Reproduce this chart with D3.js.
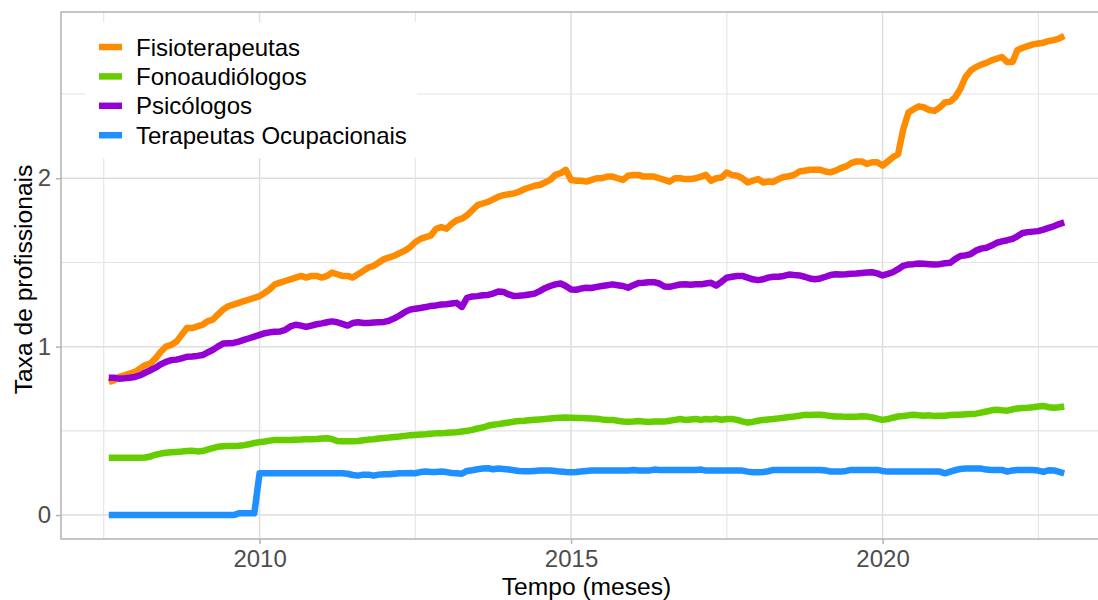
<!DOCTYPE html>
<html><head><meta charset="utf-8">
<script src="https://cdn.jsdelivr.net/npm/d3@7"></script>
<style>body{margin:0;background:#fff;} svg{display:block;font-family:"Liberation Sans",Arial,sans-serif;}</style>
</head><body><svg id="chart" width="1098" height="600"></svg>
<script>
// ---- data (monthly, Aug 2007 .. Dec 2022) ----
const startYear = 2007, startMonth = 8;
const seriesNames = ["Fisioterapeutas", "Fonoaudiólogos", "Psicólogos", "Terapeutas Ocupacionais"];
const seriesColors = ["#FF8C00", "#66CD00", "#9400D3", "#1E90FF"];
const fisioterapeutas = [
  0.79,0.80,0.82,0.83,0.84,
  0.85,0.87,0.89,0.90,0.93,0.97,1.00,1.01,1.03,1.07,1.11,1.11,
  1.12,1.13,1.15,1.16,1.19,1.22,1.24,1.25,1.26,1.27,1.28,1.29,
  1.30,1.32,1.34,1.37,1.38,1.39,1.40,1.41,1.42,1.41,1.42,1.42,
  1.41,1.42,1.44,1.43,1.42,1.42,1.41,1.43,1.45,1.47,1.48,1.50,
  1.52,1.53,1.54,1.555,1.57,1.59,1.62,1.64,1.65,1.66,1.70,1.71,
  1.70,1.73,1.75,1.76,1.78,1.81,1.84,1.85,1.86,1.875,1.89,1.90,
  1.905,1.91,1.92,1.935,1.945,1.955,1.96,1.975,1.99,2.02,2.03,2.05,
  1.99,1.985,1.985,1.98,1.99,2.00,2.00,2.01,2.01,2.00,1.99,2.015,
  2.02,2.02,2.01,2.01,2.01,2.00,1.99,1.98,2.00,2.00,1.995,1.995,
  2.00,2.01,2.02,1.985,2.00,2.004,2.034,2.02,2.015,2.00,1.975,1.985,
  1.995,1.975,1.98,1.978,1.995,2.008,2.012,2.02,2.04,2.045,2.05,2.05,
  2.05,2.04,2.035,2.045,2.06,2.07,2.09,2.10,2.10,2.085,2.095,2.095,
  2.075,2.10,2.125,2.143,2.29,2.39,2.41,2.427,2.42,2.405,2.40,2.42,
  2.45,2.455,2.48,2.53,2.60,2.64,2.66,2.675,2.685,2.70,2.71,2.72,
  2.69,2.69,2.76,2.775,2.785,2.795,2.80,2.805,2.815,2.82,2.83,2.845
];
const fonoaudiologos = [
  0.34,0.34,0.34,0.34,0.34,
  0.34,0.34,0.342,0.348,0.358,0.365,0.37,0.373,0.375,0.377,0.38,0.382,
  0.378,0.38,0.388,0.397,0.405,0.408,0.41,0.41,0.412,0.415,0.42,0.428,
  0.433,0.437,0.442,0.445,0.446,0.446,0.446,0.447,0.448,0.45,0.45,0.452,
  0.455,0.456,0.452,0.44,0.438,0.438,0.438,0.44,0.444,0.448,0.45,0.455,
  0.458,0.46,0.463,0.466,0.47,0.474,0.476,0.478,0.48,0.483,0.485,0.485,
  0.488,0.49,0.492,0.496,0.50,0.506,0.514,0.52,0.53,0.536,0.54,0.545,
  0.55,0.555,0.558,0.56,0.563,0.566,0.568,0.57,0.574,0.576,0.578,0.579,
  0.578,0.576,0.576,0.575,0.574,0.572,0.568,0.565,0.565,0.56,0.556,0.554,
  0.555,0.558,0.555,0.553,0.556,0.555,0.555,0.56,0.565,0.57,0.565,0.568,
  0.57,0.565,0.57,0.568,0.572,0.566,0.57,0.57,0.565,0.556,0.549,0.553,
  0.56,0.565,0.568,0.57,0.574,0.578,0.582,0.585,0.59,0.595,0.594,0.595,
  0.595,0.592,0.588,0.585,0.585,0.583,0.583,0.584,0.586,0.585,0.58,0.572,
  0.565,0.57,0.578,0.585,0.588,0.592,0.595,0.592,0.59,0.592,0.588,0.59,
  0.59,0.594,0.595,0.596,0.598,0.60,0.602,0.608,0.615,0.622,0.625,0.622,
  0.62,0.628,0.633,0.635,0.637,0.64,0.645,0.648,0.64,0.637,0.64,0.645
];
const psicologos = [
  0.815,0.815,0.81,0.812,0.815,
  0.82,0.83,0.845,0.86,0.875,0.895,0.91,0.92,0.923,0.93,0.94,0.942,
  0.945,0.95,0.965,0.98,1.00,1.018,1.02,1.022,1.03,1.04,1.05,1.06,
  1.07,1.08,1.085,1.088,1.09,1.10,1.12,1.13,1.125,1.117,1.125,1.133,
  1.138,1.145,1.15,1.145,1.135,1.125,1.14,1.145,1.14,1.141,1.143,1.145,
  1.147,1.155,1.168,1.185,1.205,1.22,1.225,1.23,1.235,1.242,1.245,1.25,
  1.252,1.256,1.26,1.236,1.29,1.298,1.30,1.305,1.307,1.315,1.328,1.325,
  1.31,1.30,1.302,1.305,1.31,1.315,1.33,1.347,1.36,1.37,1.375,1.36,
  1.34,1.338,1.345,1.35,1.348,1.355,1.36,1.365,1.37,1.365,1.36,1.35,
  1.365,1.378,1.38,1.383,1.383,1.375,1.357,1.355,1.362,1.369,1.37,1.368,
  1.37,1.37,1.375,1.379,1.363,1.385,1.409,1.415,1.419,1.42,1.41,1.40,
  1.395,1.40,1.41,1.415,1.415,1.42,1.428,1.425,1.423,1.415,1.405,1.40,
  1.405,1.415,1.425,1.43,1.428,1.43,1.433,1.435,1.438,1.44,1.442,1.435,
  1.423,1.432,1.442,1.46,1.48,1.488,1.49,1.494,1.492,1.49,1.488,1.49,
  1.495,1.498,1.52,1.538,1.542,1.55,1.57,1.582,1.587,1.60,1.617,1.625,
  1.632,1.64,1.655,1.675,1.68,1.683,1.686,1.695,1.705,1.715,1.728,1.738
];
const terapeutasOcupacionais = [
  0,0,0,0,0,
  0,0,0,0,0,0,0,0,0,0,0,0,
  0,0,0,0,0,0,0,0,0.01,0.01,0.01,0.01,
  0.248,0.248,0.248,0.248,0.248,0.248,0.248,0.248,0.248,0.248,0.248,0.248,
  0.248,0.248,0.248,0.248,0.248,0.245,0.238,0.234,0.24,0.24,0.234,0.24,
  0.242,0.242,0.245,0.248,0.248,0.25,0.248,0.255,0.258,0.255,0.256,0.258,
  0.255,0.25,0.248,0.245,0.262,0.266,0.272,0.276,0.278,0.272,0.276,0.274,
  0.27,0.266,0.262,0.26,0.26,0.262,0.264,0.264,0.264,0.262,0.258,0.255,
  0.254,0.255,0.258,0.262,0.264,0.264,0.264,0.264,0.264,0.264,0.264,0.264,
  0.268,0.264,0.264,0.264,0.27,0.268,0.268,0.268,0.268,0.268,0.268,0.268,
  0.268,0.27,0.264,0.264,0.264,0.264,0.264,0.264,0.264,0.264,0.258,0.254,
  0.254,0.256,0.26,0.268,0.268,0.268,0.268,0.268,0.268,0.268,0.268,0.268,
  0.268,0.265,0.258,0.258,0.258,0.262,0.268,0.268,0.268,0.268,0.268,0.268,
  0.262,0.258,0.258,0.258,0.258,0.258,0.258,0.258,0.258,0.258,0.258,0.258,
  0.248,0.258,0.266,0.274,0.276,0.276,0.276,0.276,0.27,0.268,0.268,0.268,
  0.258,0.265,0.268,0.268,0.268,0.268,0.264,0.256,0.266,0.265,0.256,0.248
];
const xMajorYears = [2010, 2015, 2020];
const xMinorYears = [2007.5, 2012.5, 2017.5, 2022.5];
const yMajorTicks = [0, 1, 2];
const yMinorTicks = [0.5, 1.5, 2.5];
const xTitle = "Tempo (meses)";
const yTitle = "Taxa de profissionais";

// ---- build ----
const seriesValues = [fisioterapeutas, fonoaudiologos, psicologos, terapeutasOcupacionais];
const months = fisioterapeutas.map((_, i) => new Date(startYear, startMonth - 1 + i, 1));
const yearToDate = y => { const yr = Math.floor(y); const frac = y - yr;
  const a = new Date(yr, 0, 1), b = new Date(yr + 1, 0, 1); return new Date(+a + frac * (b - a)); };

const svg = d3.select("#chart");
const P = {left: 61, right: 1112, top: 12, bottom: 539};

const [d0, d1] = d3.extent(months);
const span = d1 - d0;
const x = d3.scaleTime().domain([new Date(+d0 - 0.05 * span), new Date(+d1 + 0.05 * span)]).range([P.left, P.right]);
const yMax = d3.max(seriesValues.flat()), yMin = 0;
const yr = yMax - yMin;
const y = d3.scaleLinear().domain([yMin - 0.05 * yr, yMax + 0.05 * yr]).range([P.bottom, P.top]);

const grid = svg.append("g");
grid.selectAll(".vminor").data(xMinorYears).join("line")
  .attr("x1", d => x(yearToDate(d))).attr("x2", d => x(yearToDate(d)))
  .attr("y1", P.top).attr("y2", P.bottom).attr("stroke", "#E4E4E4").attr("stroke-width", 1.1);
grid.selectAll(".hminor").data(yMinorTicks).join("line")
  .attr("y1", d => y(d)).attr("y2", d => y(d))
  .attr("x1", P.left).attr("x2", P.right).attr("stroke", "#E4E4E4").attr("stroke-width", 1.1);
grid.selectAll(".vmajor").data(xMajorYears).join("line")
  .attr("x1", d => x(new Date(d, 0, 1))).attr("x2", d => x(new Date(d, 0, 1)))
  .attr("y1", P.top).attr("y2", P.bottom).attr("stroke", "#DEDEDE").attr("stroke-width", 1.5);
grid.selectAll(".hmajor").data(yMajorTicks).join("line")
  .attr("y1", d => y(d)).attr("y2", d => y(d))
  .attr("x1", P.left).attr("x2", P.right).attr("stroke", "#DEDEDE").attr("stroke-width", 1.5);

const line = d3.line().x((d, i) => x(months[i])).y(d => y(d));
svg.append("g").selectAll("path").data(seriesValues).join("path")
  .attr("d", line).attr("fill", "none")
  .attr("stroke", (d, i) => seriesColors[i]).attr("stroke-width", 6.5)
  .attr("stroke-linejoin", "round").attr("stroke-linecap", "butt");

// panel border
svg.append("rect").attr("x", P.left).attr("y", P.top)
  .attr("width", P.right - P.left).attr("height", P.bottom - P.top)
  .attr("fill", "none").attr("stroke", "#B3B3B3").attr("stroke-width", 1.5);

// axes
const xAxis = d3.axisBottom(x).tickValues(xMajorYears.map(d => new Date(d, 0, 1)))
  .tickFormat(d3.timeFormat("%Y")).tickSize(5).tickPadding(6);
const gx = svg.append("g").attr("transform", `translate(0,${P.bottom})`).call(xAxis);
gx.select(".domain").remove();
gx.selectAll("line").attr("stroke", "#B3B3B3").attr("stroke-width", 1.5);
gx.selectAll("text").attr("fill", "#4D4D4D").attr("font-size", 24).attr("font-family", "Liberation Sans, Arial, sans-serif");

const yAxis = d3.axisLeft(y).tickValues(yMajorTicks).tickFormat(d3.format("d")).tickSize(5).tickPadding(5);
const gy = svg.append("g").attr("transform", `translate(${P.left},0)`).call(yAxis);
gy.select(".domain").remove();
gy.selectAll("line").attr("stroke", "#B3B3B3").attr("stroke-width", 1.5);
gy.selectAll("text").attr("fill", "#4D4D4D").attr("font-size", 24).attr("font-family", "Liberation Sans, Arial, sans-serif");

svg.append("text").attr("x", (P.left + P.right) / 2).attr("y", 595)
  .attr("text-anchor", "middle").attr("font-size", 24.6).attr("fill", "#000").text(xTitle);
svg.append("text").attr("transform", `translate(32,${(P.top + P.bottom) / 2 + 4}) rotate(-90)`)
  .attr("text-anchor", "middle").attr("font-size", 24.6).attr("fill", "#000").text(yTitle);

// legend
const lg = svg.append("g");
lg.append("rect").attr("x", 86).attr("y", 22).attr("width", 331).attr("height", 136).attr("fill", "#fff");
const rows = lg.selectAll("g.row").data(seriesNames).join("g")
  .attr("transform", (d, i) => `translate(0,${47 + i * 29.4})`);
rows.append("line").attr("x1", 99).attr("x2", 122).attr("y1", 0).attr("y2", 0)
  .attr("stroke", (d, i) => seriesColors[i]).attr("stroke-width", 6.5);
rows.append("text").attr("x", 136).attr("y", 0).attr("dy", "0.36em")
  .attr("font-size", 24).attr("fill", "#000").text(d => d);
</script></body></html>
